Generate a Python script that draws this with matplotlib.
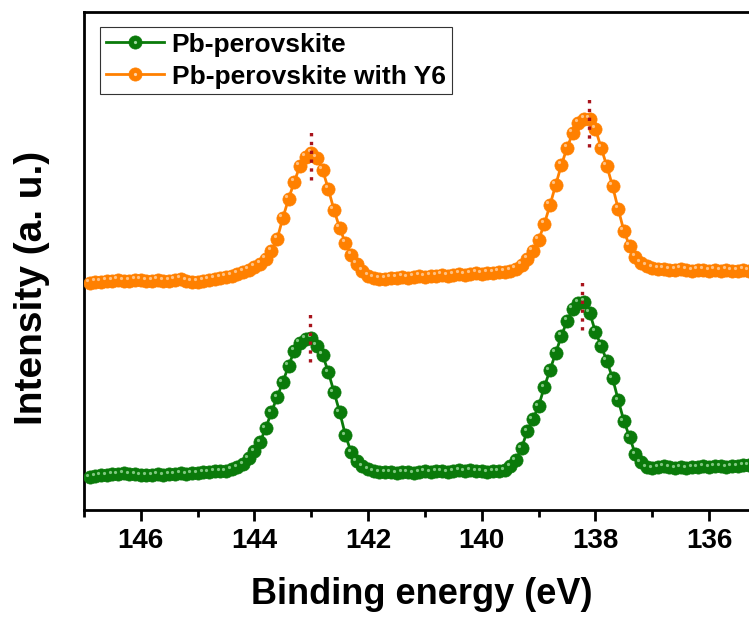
import numpy as np
import matplotlib
matplotlib.use("Agg")
import matplotlib.pyplot as plt
from matplotlib.transforms import offset_copy
from matplotlib.legend_handler import HandlerTuple

plt.rcParams['font.family'] = ['Liberation Sans', 'DejaVu Sans']
plt.rcParams['font.weight'] = 'bold'

# binding energy grid, 146.9 -> 135.0 eV in 0.1 eV steps
energy = np.linspace(146.9, 135.0, 120)

# Pb 4f, pristine film (a.u.)
pb_perovskite = [
    66, 68, 70, 70, 72, 72, 74, 72, 72, 70,
    70, 70, 72, 70, 72, 72, 74, 72, 74, 74,
    76, 76, 78, 78, 78, 82, 86, 92, 104, 118,
    136, 164, 196, 226, 256, 288, 318, 334, 342, 344,
    328, 310, 276, 236, 196, 150, 116, 98, 88, 82,
    78, 76, 76, 76, 74, 76, 76, 74, 76, 78,
    76, 78, 78, 76, 78, 80, 78, 80, 78, 78,
    76, 78, 78, 80, 88, 100, 124, 158, 182, 208,
    246, 280, 314, 348, 378, 402, 414, 416, 394, 356,
    328, 298, 264, 220, 178, 146, 112, 96, 86, 84,
    86, 88, 86, 84, 86, 84, 86, 86, 88, 86,
    88, 88, 86, 88, 88, 90, 90, 88, 90, 90,
]

# Pb 4f, film with Y6 (a.u., offset)
pb_perovskite_y6 = [
    454, 456, 456, 458, 458, 460, 458, 458, 460, 460,
    458, 458, 460, 458, 458, 460, 462, 458, 456, 456,
    458, 460, 462, 464, 466, 468, 472, 476, 480, 486,
    492, 502, 518, 542, 584, 622, 656, 688, 706, 714,
    704, 680, 642, 600, 564, 534, 510, 492, 478, 468,
    464, 462, 462, 464, 464, 466, 464, 466, 468, 466,
    468, 468, 470, 468, 470, 472, 470, 472, 474, 472,
    474, 474, 476, 476, 478, 482, 490, 502, 518, 540,
    572, 610, 650, 690, 724, 754, 774, 782, 782, 762,
    724, 688, 648, 602, 558, 528, 506, 494, 488, 484,
    482, 482, 480, 480, 482, 480, 478, 480, 480, 478,
    480, 478, 480, 478, 478, 480, 478, 480, 478, 478,
]

# peak position markers: (energy, y_from, y_to)
peak_marks = [
    (143.03, 296, 394),
    (138.23, 360, 460),
    (143.00, 660, 760),
    (138.12, 726, 828),
]

labels = ['Pb-perovskite', 'Pb-perovskite with Y6']
colors = ['#0a7a0a', '#ff8000']
shine = ['#9edc9e', '#ffd2a6']

fig = plt.figure(figsize=(7.49, 6.17), dpi=100)
ax = fig.add_axes([0.112, 0.1734, 0.9107, 0.8072])

hi = offset_copy(ax.transData, fig=fig, x=-2.5, y=2.5, units='dots')
handles = []
for ys, c, s, lab in zip([pb_perovskite, pb_perovskite_y6], colors, shine, labels):
    ln, = ax.plot(energy, ys, '-o', color=c, lw=2, ms=9.5,
                  mfc=c, mec=c, mew=0.5, label=lab, zorder=3)
    ax.plot(energy, ys, 'o', ms=2.3, color=s, mec='none', alpha=0.8,
            transform=hi, zorder=4)
    hl, = ax.plot([], [], 'o', ms=2.3, color=s, mec='none')
    handles.append((ln, hl))

for e, y0, y1 in peak_marks:
    ax.plot([e, e], [y0, y1], ':', color='#a8141c', lw=2.4, zorder=5)

ax.set_xlim(147, 135)
ax.set_ylim(0, 996)
ax.set_xticks([146, 144, 142, 140, 138, 136])
ax.set_xticks(np.arange(135, 148, 2), minor=True)
ax.set_yticks([])
ax.tick_params(axis='x', which='major', length=8, width=2, direction='out',
               labelsize=20, pad=5)
ax.tick_params(axis='x', which='minor', length=5, width=2, direction='out')
for sp in ax.spines.values():
    sp.set_linewidth(2)

ax.set_xlabel('Binding energy (eV)', fontsize=26, fontweight='bold')
ax.xaxis.set_label_coords(0.496, -0.135)
ax.set_ylabel('Intensity (a. u.)', fontsize=28, fontweight='bold')
ax.yaxis.set_label_coords(-0.049, 0.446)

leg = ax.legend(handles, labels, handler_map={tuple: HandlerTuple(ndivide=1)},
                loc='upper left', bbox_to_anchor=(0.0235, 0.97),
                borderaxespad=0, fontsize=19, numpoints=1, handlelength=2.2,
                handletextpad=0.3, labelspacing=0.3, borderpad=0.22,
                fancybox=False, framealpha=1, edgecolor='#333333')
leg.get_frame().set_linewidth(0.8)

fig.savefig('out.png', dpi=100)
